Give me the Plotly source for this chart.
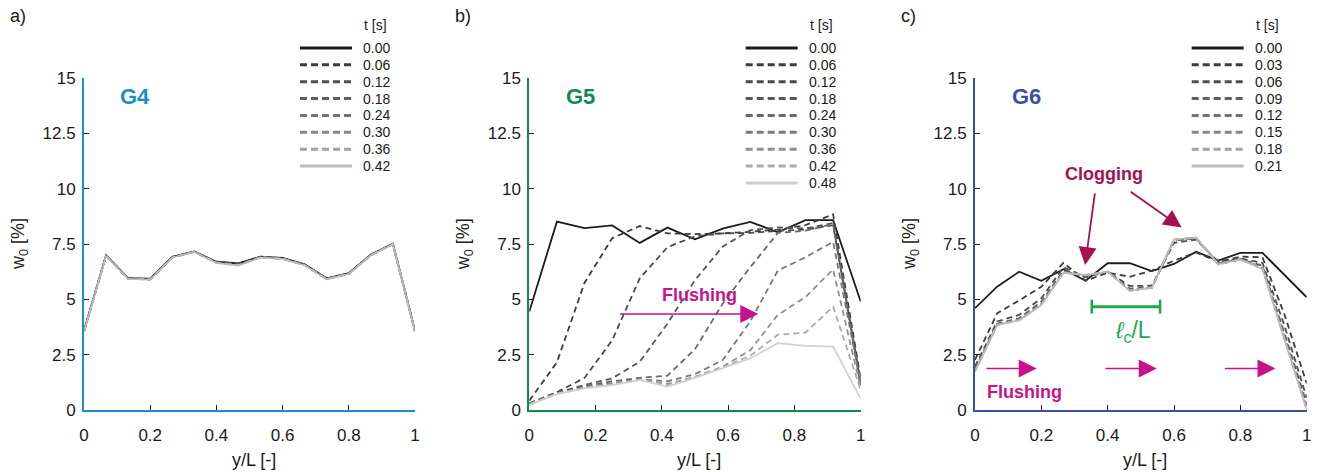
import plotly.graph_objects as go

W, H = 1318, 472
FONT = "Liberation Sans, Arial, sans-serif"

# ---------------- data ----------------
# sampling positions along the gauge (y/L)
YL_G4 = [0.0, 0.0667, 0.1333, 0.2, 0.2667, 0.3333, 0.4, 0.4667,
         0.5333, 0.6, 0.6667, 0.7333, 0.8, 0.8667, 0.9333, 1.0]
YL_G5 = [0.0, 0.0833, 0.1667, 0.25, 0.3333, 0.4167, 0.5,
         0.5833, 0.6667, 0.75, 0.8333, 0.9167, 1.0]
YL_G6 = YL_G4

T_G4 = ["0.00", "0.06", "0.12", "0.18", "0.24", "0.30", "0.36", "0.42"]
T_G5 = ["0.00", "0.06", "0.12", "0.18", "0.24", "0.30", "0.36", "0.42", "0.48"]
T_G6 = ["0.00", "0.03", "0.06", "0.09", "0.12", "0.15", "0.18", "0.21"]

# water content w0 [%] for G4
W0_G4_000 = [3.58, 6.99, 5.96, 5.93, 6.92, 7.16, 6.70, 6.62, 6.93, 6.87, 6.58, 5.95, 6.18, 7.02, 7.51, 3.58]
W0_G4_006 = [3.57, 6.98, 5.95, 5.92, 6.91, 7.16, 6.69, 6.60, 6.92, 6.86, 6.57, 5.94, 6.17, 7.01, 7.51, 3.57]
W0_G4_012 = [3.56, 6.98, 5.94, 5.91, 6.91, 7.15, 6.68, 6.58, 6.91, 6.85, 6.56, 5.93, 6.17, 7.01, 7.50, 3.56]
W0_G4_018 = [3.56, 6.97, 5.94, 5.91, 6.90, 7.15, 6.67, 6.57, 6.91, 6.85, 6.56, 5.93, 6.16, 7.00, 7.50, 3.56]
W0_G4_024 = [3.55, 6.97, 5.93, 5.90, 6.90, 7.15, 6.66, 6.56, 6.90, 6.84, 6.55, 5.92, 6.16, 7.00, 7.50, 3.55]
W0_G4_030 = [3.55, 6.97, 5.93, 5.90, 6.90, 7.15, 6.66, 6.55, 6.90, 6.84, 6.55, 5.92, 6.16, 7.00, 7.50, 3.55]
W0_G4_036 = [3.55, 6.96, 5.92, 5.90, 6.89, 7.14, 6.65, 6.54, 6.89, 6.83, 6.54, 5.92, 6.15, 6.99, 7.49, 3.55]
W0_G4_042 = [3.54, 6.96, 5.92, 5.89, 6.89, 7.14, 6.65, 6.53, 6.89, 6.83, 6.54, 5.91, 6.15, 6.99, 7.49, 3.54]

# water content w0 [%] for G5
W0_G5_000 = [4.45, 8.51, 8.22, 8.34, 7.55, 8.24, 7.71, 8.19, 8.50, 8.03, 8.58, 8.58, 4.90]
W0_G5_006 = [0.42, 2.15, 5.75, 7.76, 8.31, 7.98, 7.95, 7.98, 8.05, 8.15, 8.35, 8.84, 1.40]
W0_G5_012 = [0.30, 0.80, 1.45, 3.15, 5.95, 7.35, 7.85, 7.98, 8.00, 8.10, 8.15, 8.35, 1.25]
W0_G5_018 = [0.30, 0.78, 1.13, 1.43, 2.18, 3.90, 5.87, 7.38, 8.13, 8.25, 8.20, 8.45, 1.15]
W0_G5_024 = [0.28, 0.76, 1.08, 1.30, 1.45, 1.55, 2.75, 4.80, 6.45, 8.00, 8.10, 8.40, 1.10]
W0_G5_030 = [0.28, 0.75, 1.03, 1.22, 1.38, 1.30, 1.62, 2.25, 4.00, 6.30, 6.90, 7.60, 1.20]
W0_G5_036 = [0.27, 0.74, 1.01, 1.18, 1.36, 1.18, 1.50, 1.95, 2.70, 4.30, 5.10, 6.35, 1.00]
W0_G5_042 = [0.26, 0.73, 1.00, 1.15, 1.36, 1.12, 1.48, 1.92, 2.45, 3.40, 3.50, 4.67, 0.90]
W0_G5_048 = [0.22, 0.72, 0.98, 1.12, 1.36, 1.06, 1.45, 1.90, 2.33, 3.02, 2.90, 2.86, 0.50]

# water content w0 [%] for G6
W0_G6_000 = [4.60, 5.57, 6.25, 5.84, 6.36, 5.84, 6.63, 6.63, 6.28, 6.60, 7.15, 6.75, 7.10, 7.10, 6.10, 5.09]
W0_G6_003 = [2.26, 4.37, 4.95, 5.57, 6.65, 5.84, 6.20, 6.02, 6.30, 6.75, 7.12, 6.70, 6.93, 6.90, 4.30, 1.20]
W0_G6_006 = [1.96, 4.00, 4.30, 5.05, 6.45, 6.00, 6.25, 5.60, 5.62, 7.55, 7.70, 6.70, 6.85, 6.65, 3.80, 0.55]
W0_G6_009 = [1.85, 3.90, 4.15, 4.90, 6.30, 6.05, 6.25, 5.48, 5.55, 7.65, 7.75, 6.62, 6.82, 6.52, 3.45, 0.30]
W0_G6_012 = [1.80, 3.87, 4.10, 4.82, 6.25, 6.08, 6.25, 5.42, 5.52, 7.68, 7.77, 6.60, 6.80, 6.45, 3.30, 0.15]
W0_G6_015 = [1.77, 3.85, 4.08, 4.78, 6.22, 6.10, 6.25, 5.40, 5.52, 7.70, 7.78, 6.58, 6.80, 6.42, 3.25, 0.08]
W0_G6_018 = [1.75, 3.84, 4.06, 4.76, 6.20, 6.10, 6.25, 5.39, 5.53, 7.70, 7.79, 6.58, 6.80, 6.40, 3.20, 0.04]
W0_G6_021 = [1.73, 3.84, 4.05, 4.74, 6.20, 6.10, 6.25, 5.38, 5.53, 7.71, 7.79, 6.58, 6.80, 6.36, 3.16, 0.00]

X_TICKS = [0, 0.2, 0.4, 0.6, 0.8, 1.0]
X_TICKTEXT = ["0", "0.2", "0.4", "0.6", "0.8", "1"]
Y_TICKS = [0, 2.5, 5, 7.5, 10, 12.5, 15]
Y_TICKTEXT = ["0", "2.5", "5", "7.5", "10", "12.5", "15"]

# ---------------- styling ----------------
DASH = "6px,4px"
STYLE_8 = [("#1c1c1c", "solid"), ("#3d3d3d", DASH), ("#4f4f4f", DASH), ("#606060", DASH),
           ("#727272", DASH), ("#878787", DASH), ("#a2a2a2", DASH), ("#bababa", "solid")]
STYLE_9 = [("#1c1c1c", "solid"), ("#3d3d3d", DASH), ("#4a4a4a", DASH), ("#585858", DASH),
           ("#676767", DASH), ("#7a7a7a", DASH), ("#909090", DASH), ("#ababab", DASH),
           ("#d0d0d0", "solid")]

PLOT_TOP, PLOT_BOTTOM = 78, 410

panels = [
    dict(letter="a)", name="G4", color="#1b8dca", left=84, right=415,
         yl=YL_G4, times=T_G4, styles=STYLE_8,
         series=[W0_G4_000, W0_G4_006, W0_G4_012, W0_G4_018,
                 W0_G4_024, W0_G4_030, W0_G4_036, W0_G4_042]),
    dict(letter="b)", name="G5", color="#11894d", left=529.3, right=860.7,
         yl=YL_G5, times=T_G5, styles=STYLE_9,
         series=[W0_G5_000, W0_G5_006, W0_G5_012, W0_G5_018, W0_G5_024,
                 W0_G5_030, W0_G5_036, W0_G5_042, W0_G5_048]),
    dict(letter="c)", name="G6", color="#3c4f9f", left=975, right=1306.7,
         yl=YL_G6, times=T_G6, styles=STYLE_8,
         series=[W0_G6_000, W0_G6_003, W0_G6_006, W0_G6_009,
                 W0_G6_012, W0_G6_015, W0_G6_018, W0_G6_021]),
]

fig = go.Figure()
layout = dict(
    width=W, height=H, margin=dict(l=0, r=0, t=0, b=0, autoexpand=False),
    paper_bgcolor="white", plot_bgcolor="rgba(0,0,0,0)", showlegend=False,
    font=dict(family=FONT, color="#1a1a1a"),
)
annotations = []

# pixel-space overlay axes for legends and titles
layout["xaxis4"] = dict(domain=[0, 1], range=[0, W], visible=False, anchor="y4",
                        fixedrange=True, automargin=False)
layout["yaxis4"] = dict(domain=[0, 1], range=[H, 0], visible=False, anchor="x4",
                        fixedrange=True, automargin=False)

LEG_ROW0, LEG_STEP, LEG_LEN = 48, 16.86, 52

for i, p in enumerate(panels, start=1):
    sfx = "" if i == 1 else str(i)
    xdom = [p["left"] / W, p["right"] / W]
    ydom = [(H - PLOT_BOTTOM) / H, (H - PLOT_TOP) / H]
    axis_common = dict(showline=True, linecolor=p["color"], linewidth=2,
                       ticks="inside", ticklen=5, tickwidth=1.2, tickcolor="#222",
                       showgrid=False, zeroline=False, fixedrange=True, automargin=False,
                       tickfont=dict(size=17, family=FONT, color="#1a1a1a"))
    layout["xaxis" + sfx] = dict(domain=xdom, range=[0, 1], anchor="y" + sfx,
                                 tickvals=X_TICKS, ticktext=X_TICKTEXT,
                                 ticklabelstandoff=9, **axis_common)
    layout["yaxis" + sfx] = dict(domain=ydom, range=[0, 15], anchor="x" + sfx,
                                 tickvals=Y_TICKS, ticktext=Y_TICKTEXT,
                                 ticklabelstandoff=3, **axis_common)

    for vals, (col, dash) in zip(p["series"], p["styles"]):
        fig.add_trace(go.Scatter(x=p["yl"], y=vals, mode="lines", xaxis="x" + sfx, yaxis="y" + sfx,
                                 line=dict(color=col, width=1.8, dash=dash), hoverinfo="skip"))

    # legend built in pixel space
    lx = p["right"] - 115
    for j, (t, (col, dash)) in enumerate(zip(p["times"], p["styles"])):
        ry = LEG_ROW0 + j * LEG_STEP
        fig.add_trace(go.Scatter(x=[lx, lx + LEG_LEN], y=[ry, ry], mode="lines",
                                 xaxis="x4", yaxis="y4", hoverinfo="skip",
                                 line=dict(color=col, width=3,
                                           dash="7px,4px" if dash != "solid" else "solid")))
        annotations.append(dict(x=lx + LEG_LEN + 9, y=ry, xref="x4", yref="y4", text=t,
                                showarrow=False, xanchor="left", yanchor="middle",
                                font=dict(size=14, family=FONT, color="#1a1a1a")))
    annotations.append(dict(x=lx + LEG_LEN + 37, y=25, xref="x4", yref="y4", text="t [s]",
                            showarrow=False, xanchor="right", yanchor="middle",
                            font=dict(size=14, family=FONT, color="#1a1a1a")))

    # panel letter, axis titles, gauge name
    annotations.append(dict(x=p["left"] - 76, y=16, xref="x4", yref="y4", text=p["letter"],
                            showarrow=False, xanchor="left", yanchor="middle",
                            font=dict(size=18, family=FONT, color="#1a1a1a")))
    annotations.append(dict(x=p["left"] - 65, y=(PLOT_TOP + PLOT_BOTTOM) / 2, xref="x4", yref="y4",
                            text="w<sub>0</sub> [%]", textangle=-90, showarrow=False,
                            xanchor="center", yanchor="middle",
                            font=dict(size=18, family=FONT, color="#1a1a1a")))
    annotations.append(dict(x=(p["left"] + p["right"]) / 2 + 4, y=460, xref="x4", yref="y4",
                            text="y/L [-]", showarrow=False, xanchor="center", yanchor="middle",
                            font=dict(size=18, family=FONT, color="#1a1a1a")))
    annotations.append(dict(x=0.155, y=14.16, xref="x" + sfx, yref="y" + sfx,
                            text="<b>" + p["name"] + "</b>", showarrow=False,
                            xanchor="center", yanchor="middle",
                            font=dict(size=22, family=FONT, color=p["color"])))

MAGENTA = "#c8128c"
CRIMSON = "#a7104f"
GREEN = "#1ea84b"


def arrow(xref, yref, tail, tip, color, width, size):
    return dict(x=tip[0], y=tip[1], ax=tail[0], ay=tail[1], xref=xref, yref=yref,
                axref=xref, ayref=yref, text="", showarrow=True, arrowhead=2,
                arrowsize=size, arrowwidth=width, arrowcolor=color, standoff=0, startstandoff=0)


# G5: flushing front
annotations.append(arrow("x2", "y2", (0.269, 4.34), (0.691, 4.34), MAGENTA, 1.5, 2.4))
annotations.append(dict(x=0.515, y=5.2, xref="x2", yref="y2", text="<b>Flushing</b>",
                        showarrow=False, font=dict(size=18, family=FONT, color=MAGENTA)))

# G6: clogging, clogging length and flushing
annotations.append(dict(x=0.39, y=10.66, xref="x3", yref="y3", text="<b>Clogging</b>",
                        showarrow=False, font=dict(size=18, family=FONT, color=CRIMSON)))
annotations.append(arrow("x3", "y3", (0.362, 9.85), (0.332, 6.55), CRIMSON, 1.8, 2.0))
annotations.append(arrow("x3", "y3", (0.465, 9.91), (0.623, 8.24), CRIMSON, 1.8, 2.0))
for x0, x1 in [(0.030, 0.186), (0.389, 0.548), (0.749, 0.906)]:
    annotations.append(arrow("x3", "y3", (x0, 1.88), (x1, 1.88), MAGENTA, 1.5, 2.4))
annotations.append(dict(x=0.148, y=0.83, xref="x3", yref="y3", text="<b>Flushing</b>",
                        showarrow=False, font=dict(size=18, family=FONT, color=MAGENTA)))

fig.add_trace(go.Scatter(x=[0.352, 0.558], y=[4.67, 4.67], xaxis="x3", yaxis="y3",
                         mode="lines+markers", hoverinfo="skip",
                         line=dict(color=GREEN, width=3),
                         marker=dict(symbol="line-ns", size=10,
                                     line=dict(color=GREEN, width=2.5))))
annotations.append(dict(x=0.476, y=3.54, xref="x3", yref="y3",
                        text="<i>ℓ</i><sub>c</sub>/L", showarrow=False,
                        font=dict(size=23, family=FONT, color=GREEN)))

layout["annotations"] = annotations
fig.update_layout(**layout)
fig.write_html("out.html")
